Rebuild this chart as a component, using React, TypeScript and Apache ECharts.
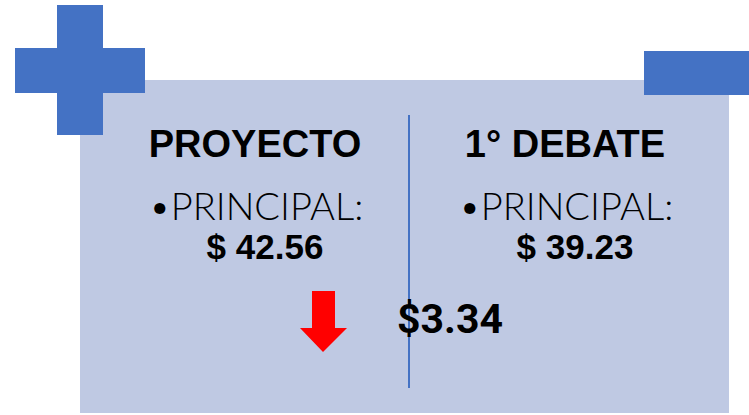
import React, { useEffect, useRef } from "react";
import * as echarts from "echarts";

const headers = ["PROYECTO", "1° DEBATE"];
const labels = ["•PRINCIPAL:", "•PRINCIPAL:"];
const values = [42.56, 39.23];
const difference = 3.34;

const BLUE = "#4472C4";
const PANEL = "#BFC9E3";

export default function App() {
  const ref = useRef<HTMLDivElement>(null);
  useEffect(() => {
    if (!ref.current) return;
    const chart = echarts.init(ref.current, undefined, { renderer: "svg" });
    const colCenters = [255, 565];
    const labelCenters = [256, 566];
    const valCenters = [265, 575];
    const graphic: any[] = [
      { type: "rect", shape: { x: 80, y: 80, width: 649, height: 333 }, style: { fill: PANEL } },
      { type: "rect", shape: { x: 57, y: 5, width: 46, height: 130 }, style: { fill: BLUE } },
      { type: "rect", shape: { x: 15, y: 48, width: 130, height: 45 }, style: { fill: BLUE } },
      { type: "rect", shape: { x: 644, y: 51, width: 105, height: 44 }, style: { fill: BLUE } },
      { type: "line", shape: { x1: 409, y1: 115, x2: 409, y2: 388 }, style: { stroke: BLUE, lineWidth: 2 } },
      {
        type: "polygon",
        shape: { points: [[312, 291], [335, 291], [335, 328], [347, 328], [323, 352], [300, 328], [312, 328]] },
        style: { fill: "#FF0000" },
      },
    ];
    headers.forEach((h, i) => {
      graphic.push({
        type: "text", x: colCenters[i], y: 163,
        style: { text: h, fill: "#000", font: "bold 38px 'Liberation Sans'", textAlign: "center", textVerticalAlign: "bottom" },
      });
      graphic.push({
        type: "text", x: labelCenters[i], y: 224,
        style: { text: labels[i], fill: "#000", font: "300 38px Lato", textAlign: "center", textVerticalAlign: "bottom" },
      });
      graphic.push({
        type: "text", x: valCenters[i], y: 264,
        style: { text: "$ " + values[i].toFixed(2), fill: "#000", font: "bold 35px 'Liberation Sans'", textAlign: "center", textVerticalAlign: "bottom" },
      });
    });
    graphic.push({
      type: "text", x: 397, y: 339,
      style: { text: "$" + difference.toFixed(2), fill: "#000", font: "bold 41px Roboto", textAlign: "left", textVerticalAlign: "bottom" },
    });
    chart.setOption({ animation: false, graphic });
    return () => chart.dispose();
  }, []);
  return <div ref={ref} style={{ width: 749, height: 415, position: "absolute", left: 0, top: 0 }} />;
}
